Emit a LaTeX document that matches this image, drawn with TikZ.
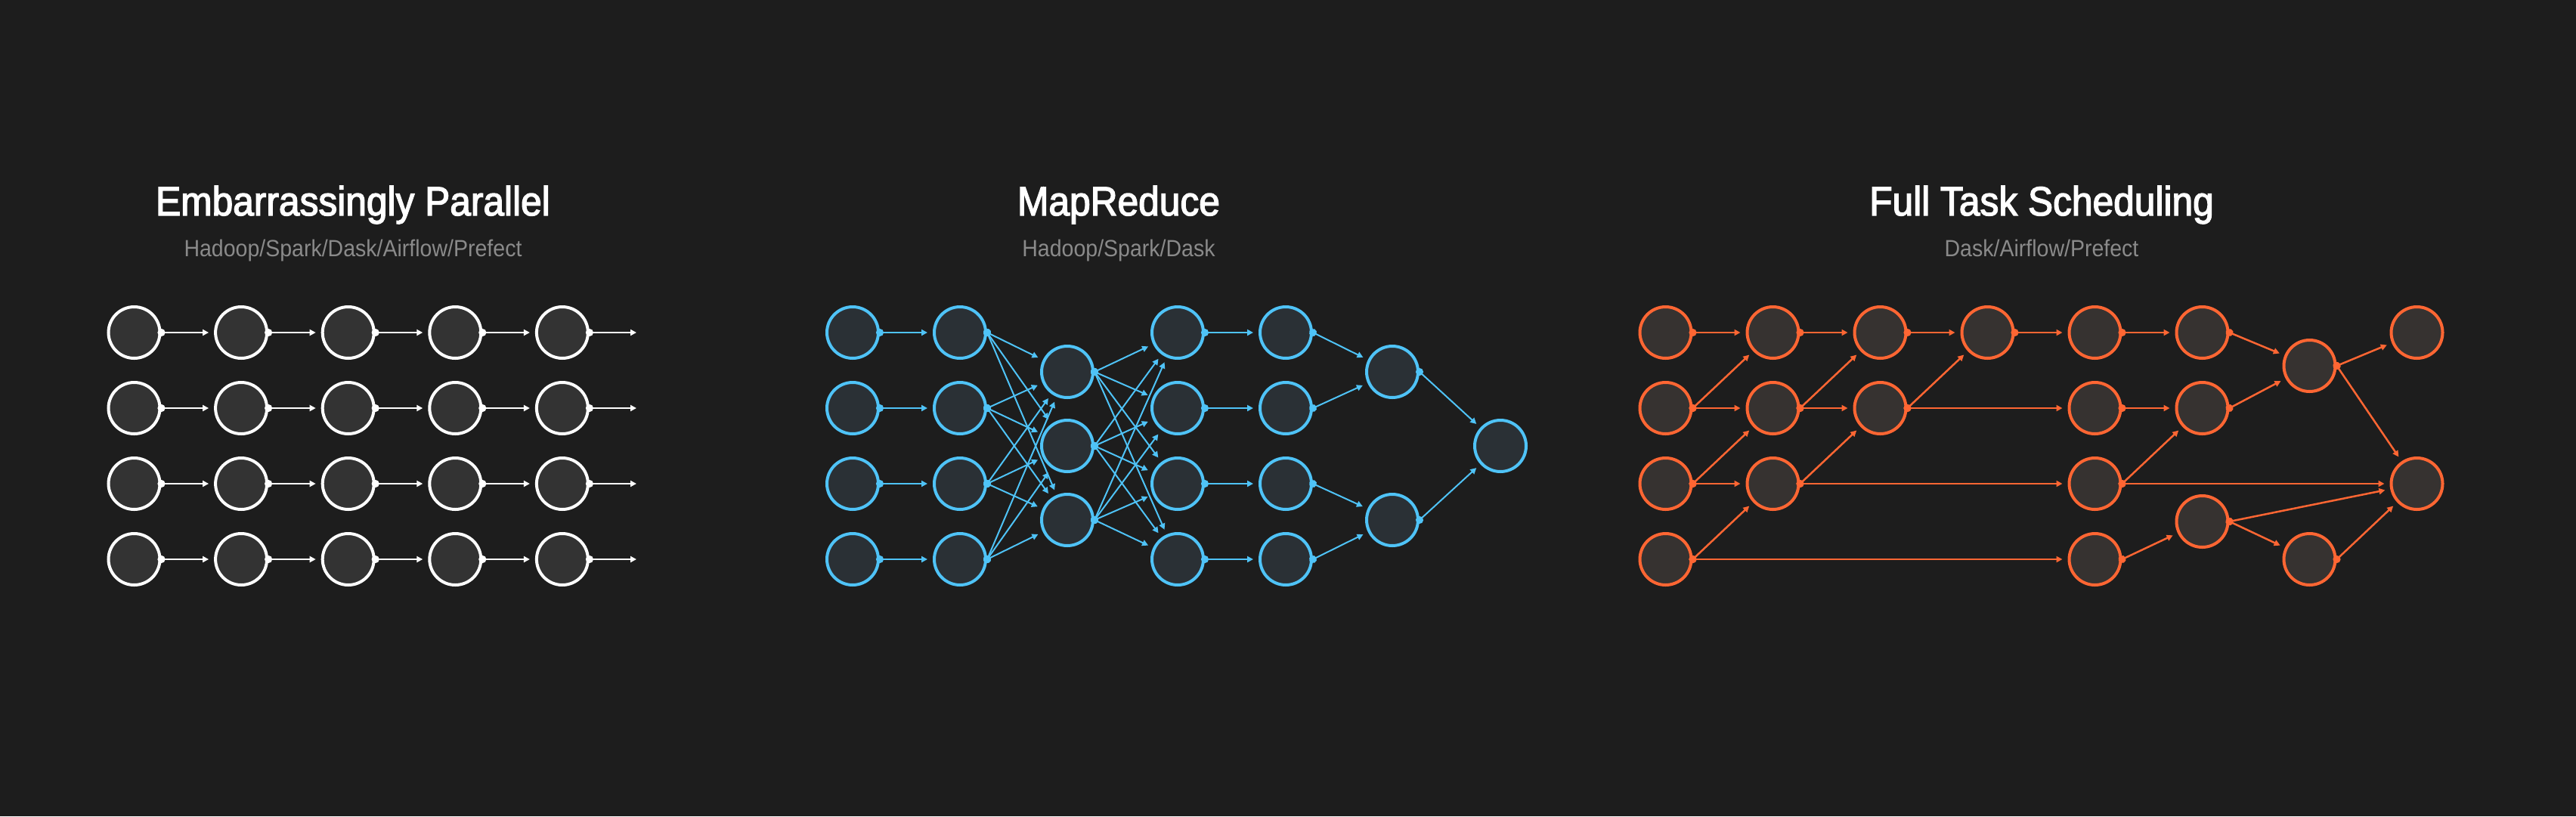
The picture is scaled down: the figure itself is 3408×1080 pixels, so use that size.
\documentclass[tikz,border=0pt]{standalone}
\usepackage{fontspec}
\setmainfont{Liberation Sans}
\newfontfamily\headfont[FakeStretch=0.92,FakeBold=2.5]{Liberation Sans}
\newfontfamily\subfont[FakeStretch=0.92]{Liberation Sans}
\usetikzlibrary{arrows.meta}
\definecolor{bgdark}{HTML}{1D1D1D}
\definecolor{subgrey}{HTML}{8A8A8A}
\definecolor{myblue}{HTML}{4FC3F7}
\definecolor{myorange}{HTML}{FF6633}
\definecolor{greyfill}{HTML}{333333}
\definecolor{bluefill}{HTML}{2A3035}
\definecolor{orangefill}{HTML}{363230}

\begin{document}
\begin{tikzpicture}[x=1pt,y=-1pt]
    % Define styles for tasks, links and headings
    \tikzstyle{task}=[circle, draw, line width=4pt, minimum size=68pt, inner sep=0pt]
    \tikzstyle{plain task}=[task, draw=white, fill=greyfill]
    \tikzstyle{map task}=[task, draw=myblue, fill=bluefill]
    \tikzstyle{dag task}=[task, draw=myorange, fill=orangefill]
    \tikzstyle{link}=[{Circle[length=10pt]}-{Triangle[length=8pt,width=8pt]}, line width=2.5pt, shorten <=-5pt, shorten >=7pt]
    \tikzstyle{title}=[anchor=base, text=white, font=\headfont\fontsize{54}{60}\selectfont]
    \tikzstyle{subtitle}=[anchor=base, text=subgrey, font=\subfont\fontsize{31}{36}\selectfont]

    % Background
    \fill[bgdark] (0,0) rectangle (3408,1080);

    % Headings
    \node[title] (T-1) at (467,285) {Embarrassingly Parallel};
    \node[subtitle] (S-1) at (467,339) {Hadoop/Spark/Dask/Airflow/Prefect};
    \node[title] (T-2) at (1480,285) {MapReduce};
    \node[subtitle] (S-2) at (1480,339) {Hadoop/Spark/Dask};
    \node[title] (T-3) at (2701,285) {Full Task Scheduling};
    \node[subtitle] (S-3) at (2701,339) {Dask/Airflow/Prefect};

    % Embarrassingly parallel: independent chains
    \foreach \r/\y in {1/440, 2/540, 3/640, 4/740} {
        \foreach \c in {1,...,5} {
            \node[plain task] (P-\r-\c) at ({177.5+141.6*(\c-1)},\y) {};
        }
        \coordinate (P-\r-6) at (842,\y);
    }
    \foreach \r in {1,...,4} {
        \foreach \c/\n in {1/2, 2/3, 3/4, 4/5} {
            \draw[link, white] (P-\r-\c.east) -- (P-\r-\n);
        }
        \draw[link, white, shorten >=0pt] (P-\r-5.east) -- (P-\r-6);
    }

    % MapReduce: map, shuffle, reduce
    \foreach \c/\x in {1/1128, 2/1270, 4/1558, 5/1701} {
        \foreach \r/\y in {1/440, 2/540, 3/640, 4/740} {
            \node[map task] (M-\c-\r) at (\x,\y) {};
        }
    }
    \foreach \r/\y in {1/492, 2/590, 3/688} {
        \node[map task] (M-3-\r) at (1412,\y) {};
    }
    \node[map task] (M-6-1) at (1842,492) {};
    \node[map task] (M-6-2) at (1842,688) {};
    \node[map task] (M-7-1) at (1985,590) {};

    \foreach \r in {1,...,4} {
        \draw[link, myblue] (M-1-\r.east) -- (M-2-\r);
        \draw[link, myblue] (M-4-\r.east) -- (M-5-\r);
    }
    \foreach \i in {1,...,4} {
        \foreach \j in {1,2,3} {
            \draw[link, myblue, line width=2pt] (M-2-\i.east) -- (M-3-\j);
            \draw[link, myblue, line width=2pt] (M-3-\j.east) -- (M-4-\i);
        }
    }
    \foreach \i/\j in {1/1, 2/1, 3/2, 4/2} {
        \draw[link, myblue, line width=2pt] (M-5-\i.east) -- (M-6-\j);
    }
    \foreach \i in {1,2} {
        \draw[link, myblue, line width=2pt] (M-6-\i.east) -- (M-7-1);
    }

    % Full task scheduling: arbitrary graph
    \foreach \c/\rows in {1/{1,2,3,4}, 2/{1,2,3}, 3/{1,2}, 4/{1}, 5/{1,2,3,4}, 6/{1,2}} {
        \foreach \r in \rows {
            \node[dag task] (D-\c-\r) at ({2203.5+142*(\c-1)},{340+100*\r}) {};
        }
    }
    \node[dag task] (D-6-3) at (2913.5,690) {};
    \node[dag task] (D-7-1) at (3055.5,484) {};
    \node[dag task] (D-7-2) at (3055.5,740) {};
    \node[dag task] (D-8-1) at (3197.5,440) {};
    \node[dag task] (D-8-2) at (3197.5,640) {};

    \foreach \a/\b in {1-1/2-1, 2-1/3-1, 3-1/4-1, 4-1/5-1, 5-1/6-1, 6-1/7-1, 7-1/8-1, 7-1/8-2,
                       1-2/2-1, 1-2/2-2, 2-2/3-1, 2-2/3-2, 3-2/4-1, 3-2/5-2, 5-2/6-2, 6-2/7-1,
                       1-3/2-2, 1-3/2-3, 2-3/3-2, 2-3/5-3, 5-3/6-2, 5-3/8-2,
                       1-4/2-3, 1-4/5-4, 5-4/6-3, 6-3/8-2, 6-3/7-2, 7-2/8-2} {
        \draw[link, myorange] (D-\a.east) -- (D-\b);
    }
\end{tikzpicture}
\end{document}
